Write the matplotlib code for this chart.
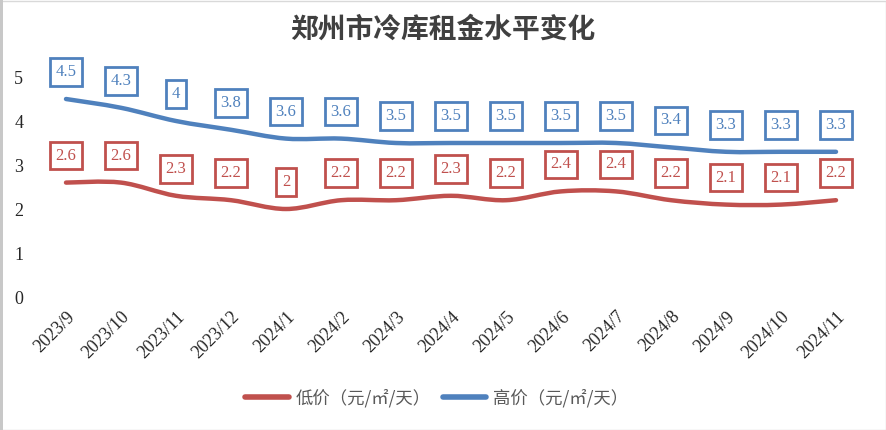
import matplotlib
matplotlib.use("Agg")
import matplotlib.pyplot as plt
from matplotlib.path import Path
from matplotlib.patches import PathPatch, Rectangle
from matplotlib.lines import Line2D

categories = ["2023/9", "2023/10", "2023/11", "2023/12", "2024/1", "2024/2", "2024/3",
              "2024/4", "2024/5", "2024/6", "2024/7", "2024/8", "2024/9", "2024/10", "2024/11"]
high = [4.5, 4.3, 4, 3.8, 3.6, 3.6, 3.5, 3.5, 3.5, 3.5, 3.5, 3.4, 3.3, 3.3, 3.3]
low = [2.6, 2.6, 2.3, 2.2, 2, 2.2, 2.2, 2.3, 2.2, 2.4, 2.4, 2.2, 2.1, 2.1, 2.2]
series_names = ["低价（元/㎡/天）", "高价（元/㎡/天）"]
title = "郑州市冷库租金水平变化"

RED = "#C0504D"
BLUE = "#4F81BD"
SERIF = ["Liberation Serif", "DejaVu Serif"]
CJK = ["Noto Sans CJK SC", "DejaVu Sans"]

fig = plt.figure(figsize=(8.86, 4.30), dpi=100)
ax = fig.add_axes([38.5 / 886, 1 - 297 / 430, 825 / 886, 220 / 430])


def smooth_path(xs, ys):
    pts = list(zip(xs, ys))
    n = len(pts)
    verts = [pts[0]]
    codes = [Path.MOVETO]
    for i in range(n - 1):
        p0 = pts[i - 1] if i > 0 else pts[i]
        p1 = pts[i]
        p2 = pts[i + 1]
        p3 = pts[i + 2] if i + 2 < n else pts[i + 1]
        c1 = (p1[0] + (p2[0] - p0[0]) / 6, p1[1] + (p2[1] - p0[1]) / 6)
        c2 = (p2[0] - (p3[0] - p1[0]) / 6, p2[1] - (p3[1] - p1[1]) / 6)
        verts += [c1, c2, p2]
        codes += [Path.CURVE4] * 3
    return Path(verts, codes)


xs = list(range(len(categories)))
for vals, color in [(low, RED), (high, BLUE)]:
    patch = PathPatch(smooth_path(xs, vals), fill=False, edgecolor=color, lw=3.2,
                      capstyle="round", joinstyle="round")
    ax.add_patch(patch)
    for x, v in zip(xs, vals):
        ax.annotate(f"{v:g}", (x, v), xytext=(0, 27), textcoords="offset pixels",
                    ha="center", va="center", color=color, fontsize=12, family=SERIF,
                    bbox=dict(boxstyle="square,pad=0.35", fc="white", ec=color, lw=2),
                    annotation_clip=False)

ax.set_xlim(-0.5, len(categories) - 0.5)
ax.set_ylim(0, 5)
ax.set_xticks(xs)
ax.set_xticklabels(categories, rotation=45, ha="right", va="top", rotation_mode="anchor",
                   family=SERIF, fontsize=13, color="#262626")
ax.set_yticks(range(0, 6))
ax.set_yticklabels([str(i) for i in range(6)], family=SERIF, fontsize=13, color="#262626")
ax.tick_params(axis="both", length=0)
ax.tick_params(axis="x", pad=8)
ax.tick_params(axis="y", pad=11)
for s in ax.spines.values():
    s.set_visible(False)

fig.text(0.5, 1 - 30 / 430, title, ha="center", va="center", fontsize=20,
         fontweight="bold", family=CJK, color="#404040")

handles = [Line2D([], [], color=RED, lw=4, solid_capstyle="round"),
           Line2D([], [], color=BLUE, lw=4, solid_capstyle="round")]
leg = fig.legend(handles, series_names, loc="center", bbox_to_anchor=(437 / 886, 1 - 398 / 430),
                 ncol=2, frameon=False, prop={"family": CJK, "size": 12.5},
                 handlelength=2.5, columnspacing=0.7, handletextpad=0.4)
for t in leg.get_texts():
    t.set_color("#595959")

fig.patches.append(Rectangle((0.5 / 886, 0.5 / 430), 885 / 886, 429 / 430, transform=fig.transFigure,
                             fill=False, ec="#D9D9D9", lw=1))
fig.patches.append(Rectangle((0, 0), 3 / 886, 1, transform=fig.transFigure,
                             fill=True, fc="#C8C8C8", ec="none"))

fig.savefig("out.png", dpi=100)
